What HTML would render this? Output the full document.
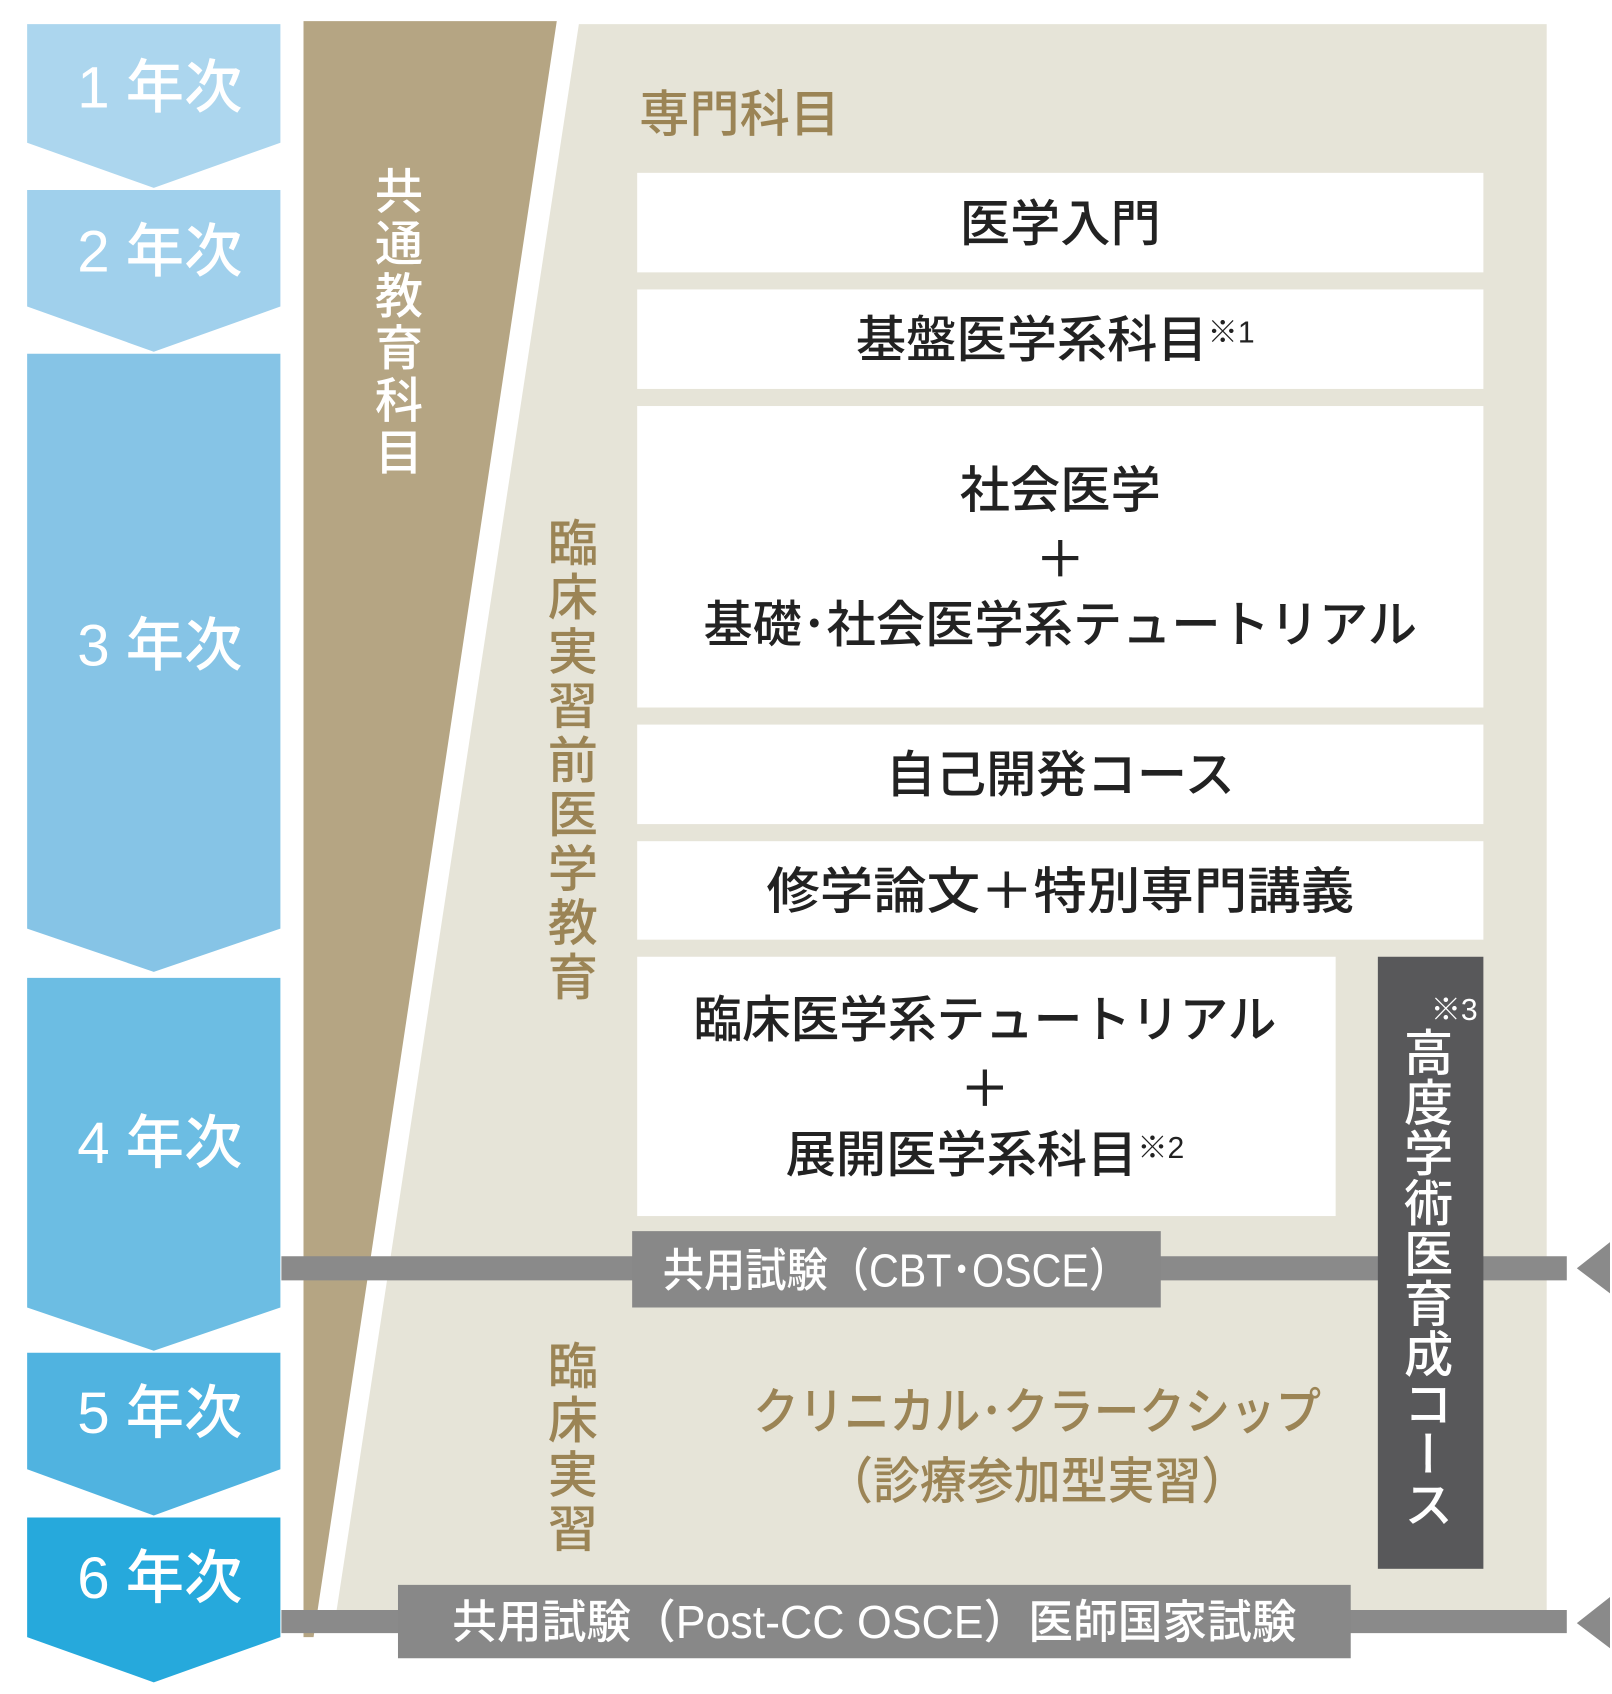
<!DOCTYPE html>
<html><head><meta charset="utf-8">
<style>
html,body{margin:0;padding:0;background:#fff;}
svg{display:block;}
text{font-family:"Liberation Sans","Noto Sans CJK JP",sans-serif;}
.v{position:absolute;writing-mode:vertical-rl;font-family:"Noto Sans CJK JP",sans-serif;font-weight:500;line-height:1;}
</style></head>
<body>
<div style="position:relative;width:1612px;height:1694px;overflow:hidden;">
<div style="position:absolute;left:0;top:0;width:1612px;height:1694px;transform:scale(1.005);transform-origin:0 0;">
<svg width="1612" height="1694" viewBox="0 0 1612 1694" xmlns="http://www.w3.org/2000/svg">
<polygon points="27,24 279,24 279,142 153,187 27,142" fill="#acd6ee"/>
<polygon points="27,189 279,189 279,305 153,350 27,305" fill="#a0d0ec"/>
<polygon points="27,352 279,352 279,924 153,967 27,924" fill="#86c4e6"/>
<polygon points="27,973 279,973 279,1301 153,1344 27,1301" fill="#6cbde3"/>
<polygon points="27,1346 279,1346 279,1462 153,1508 27,1462" fill="#50b3e0"/>
<polygon points="27,1510 279,1510 279,1629 153,1674 27,1629" fill="#26a9dc"/>
<g fill="#fff" font-size="58" font-weight="500" text-anchor="middle">
<text x="159" y="107">1 年次</text>
<text x="159" y="270">2 年次</text>
<text x="159" y="662">3 年次</text>
<text x="159" y="1157">4 年次</text>
<text x="159" y="1426">5 年次</text>
<text x="159" y="1590">6 年次</text>
</g>
<polygon points="302,21 554,21 312,1629 302,1629" fill="#b5a583"/>
<polygon points="576,24 1539,24 1539,1602 335,1602" fill="#e6e4d8"/>
<text x="636" y="131" font-size="50" font-weight="500" fill="#9b8455">専門科目</text>
<g fill="#fff">
<rect x="634" y="172" width="842" height="99"/>
<rect x="634" y="288" width="842" height="99"/>
<rect x="634" y="404" width="842" height="300"/>
<rect x="634" y="721" width="842" height="99"/>
<rect x="634" y="837" width="842" height="98"/>
<rect x="634" y="952" width="695" height="258"/>
</g>
<g fill="#222" font-size="50" font-weight="500" text-anchor="middle">
<text x="1055" y="240">医学入門</text>
<text x="1050" y="355">基盤医学系科目<tspan font-size="30" dy="-14">※1</tspan></text>
<text x="1055" y="505">社会医学</text>
<text x="1055" y="574">＋</text>
<text x="1055" y="639" textLength="710" lengthAdjust="spacingAndGlyphs">基礎･社会医学系テュートリアル</text>
<text x="1055" y="788">自己開発コース</text>
<text x="1055" y="904" textLength="585" lengthAdjust="spacingAndGlyphs">修学論文＋特別専門講義</text>
<text x="980" y="1032" textLength="580" lengthAdjust="spacingAndGlyphs">臨床医学系テュートリアル</text>
<text x="980" y="1101">＋</text>
<text x="980" y="1166">展開医学系科目<tspan font-size="30" dy="-14">※2</tspan></text>
</g>
<rect x="280" y="1250" width="1279" height="24" fill="#8a8a8a"/>
<rect x="629" y="1225" width="526" height="76" fill="#888888"/>
<text x="892" y="1280" font-size="46" font-weight="500" fill="#fff" text-anchor="middle" textLength="465" lengthAdjust="spacingAndGlyphs">共用試験（CBT･OSCE）</text>
<polygon points="1602,1236 1602,1287 1569,1262" fill="#8a8a8a"/>
<rect x="1371" y="952" width="105" height="609" fill="#58585a"/>
<text x="1447" y="1015" font-size="30" fill="#fff" text-anchor="middle">※3</text>
<g fill="#9b8455" font-size="50" font-weight="500" text-anchor="middle">
<text x="1032" y="1422" textLength="565" lengthAdjust="spacingAndGlyphs">クリニカル･クラークシップ</text>
<text x="1032" y="1491" textLength="420" lengthAdjust="spacingAndGlyphs">（診療参加型実習）</text>
</g>
<rect x="280" y="1602" width="1279" height="23" fill="#8a8a8a"/>
<rect x="396" y="1577" width="948" height="73" fill="#888888"/>
<text x="870" y="1630" font-size="46" font-weight="500" fill="#fff" text-anchor="middle" textLength="840" lengthAdjust="spacingAndGlyphs">共用試験（Post-CC OSCE）医師国家試験</text>
<polygon points="1602,1589 1602,1640 1569,1615" fill="#8a8a8a"/>
</svg>
<div class="v" style="left:373px;top:165px;font-size:48px;color:#fff;letter-spacing:4px;">共通教育科目</div>
<div class="v" style="left:545px;top:514px;font-size:50px;color:#9b8455;letter-spacing:4px;">臨床実習前医学教育</div>
<div class="v" style="left:545px;top:1333px;font-size:50px;color:#9b8455;letter-spacing:4px;">臨床実習</div>
<div class="v" style="left:1397px;top:1022px;font-size:49px;color:#fff;letter-spacing:1px;">高度学術医育成コース</div>
</div>
</div>
</body></html>
